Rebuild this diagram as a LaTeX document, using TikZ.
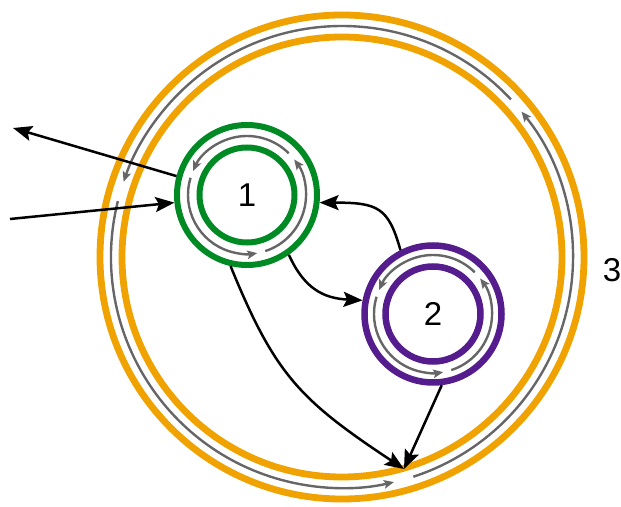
\documentclass[tikz,border=0pt]{standalone}
\usepackage{fontspec}
\setmainfont{Liberation Sans}
\usetikzlibrary{arrows.meta}
\definecolor{corange}{RGB}{240,163,0}
\definecolor{cgreen}{RGB}{0,138,36}
\definecolor{cpurple}{RGB}{84,28,140}
\definecolor{cgray}{RGB}{102,102,102}
\begin{document}
\begin{tikzpicture}[x=1pt,y=1pt,
  ring/.style={circle, draw, inner sep=0pt, minimum size=#1},
  gline/.style={draw=cgray, line width=2.4pt, -{Stealth[length=10pt,width=8.5pt,inset=2pt]}},
  arr/.style={draw=black, line width=2.5pt, -{Stealth[length=19pt,width=15pt,inset=3.5pt]}},
  lbl/.style={font=\fontsize{33}{33}\selectfont}
]
\useasboundingbox (0,0) rectangle (621,506);
% rings
\node[ring=484pt, draw=corange, line width=6.8pt] (c3o) at (342,249) {};
\node[ring=440pt, draw=corange, line width=6.8pt] (c3i) at (342,249) {};
\node[ring=140pt, draw=cgreen, line width=6pt] (c1o) at (247,311) {};
\node[ring=95pt, draw=cgreen, line width=6pt, lbl] (c1i) at (247,311) {1};
\node[ring=137pt, draw=cpurple, line width=6.5pt] (c2o) at (433,192) {};
\node[ring=95pt, draw=cpurple, line width=6.5pt, lbl] (c2i) at (433,192) {2};
\node[lbl] (l3) at (612,236) {3};
% gray circulating arcs
\foreach \a/\b in {43/161,166/283,288/399}
  \draw[gline] ([shift={(\a:231)}]c3o.center) arc[start angle=\a, end angle=\b, radius=231];
\foreach \a/\b in {45/156,163/280,288/397}{
  \draw[gline] ([shift={(\a:59)}]c1o.center) arc[start angle=\a, end angle=\b, radius=59];
  \draw[gline] ([shift={(\a:59)}]c2o.center) arc[start angle=\a, end angle=\b, radius=59];
}
% connectors
\coordinate (outtip) at (13,378);
\coordinate (instart) at (10,287);
\coordinate (btip) at (404,37);
\draw[arr] (c1o.165) -- (outtip);
\draw[arr] (instart) -- (c1o.186);
\draw[arr] (c1o.305) .. controls +(15,-33) and +(-40,2) .. (c2o.169);
\draw[arr] (c2o.117) .. controls +(-12,43) and +(58,0) .. (c1o.354);
\draw[arr] (c1o.257) .. controls (275,131) and (300,106) .. (btip);
\draw[arr] (c2o.277) -- (btip);
\end{tikzpicture}
\end{document}
